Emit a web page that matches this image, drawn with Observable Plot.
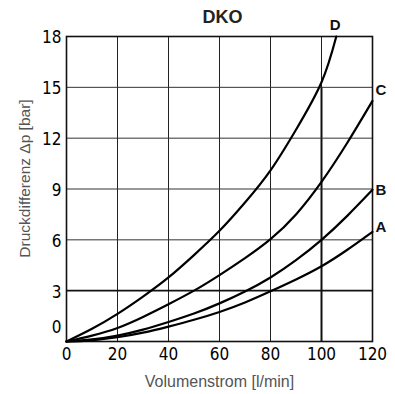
<!DOCTYPE html>
<html>
<head>
<meta charset="utf-8">
<script src="https://cdn.jsdelivr.net/npm/d3@7"></script>
<script src="https://cdn.jsdelivr.net/npm/@observablehq/plot@0.6"></script>
<style>
  html, body { margin: 0; padding: 0; background: #fff; }
</style>
</head>
<body>
<div id="chart"></div>
<script>
const title = "DKO";
const xLabel = "Volumenstrom [l/min]";
const yLabel = "Druckdifferenz Δp [bar]";
const xTicks = [0, 20, 40, 60, 80, 100, 120];
const yTicks = [0, 3, 6, 9, 12, 15, 18];

const flow  = [0, 10, 20, 30, 40, 50, 60, 70, 80, 90, 100, 110, 120];
const flowD = [0, 10, 20, 30, 40, 50, 60, 70, 80, 90, 100, 105.8];
const seriesA = [0, 0.07, 0.25, 0.52, 0.88, 1.28, 1.74, 2.3, 2.96, 3.66, 4.44, 5.4, 6.47];
const seriesB = [0, 0.12, 0.35, 0.7, 1.15, 1.65, 2.25, 2.95, 3.78, 4.8, 6.0, 7.4, 8.95];
const seriesC = [0, 0.35, 0.8, 1.45, 2.2, 3.0, 3.92, 4.92, 6.04, 7.5, 9.42, 11.7, 14.2];
const seriesD = [0, 0.75, 1.63, 2.65, 3.78, 5.1, 6.53, 8.2, 10.1, 12.5, 15.3, 18];
const curveNames = ["A", "B", "C", "D"];

const series = [
  {name: curveNames[0], x: flow, y: seriesA},
  {name: curveNames[1], x: flow, y: seriesB},
  {name: curveNames[2], x: flow, y: seriesC},
  {name: curveNames[3], x: flowD, y: seriesD}
];
const rows = series.flatMap(s => s.x.map((x, i) => ({name: s.name, x, y: s.y[i]})));
const ends = series.map(s => ({name: s.name, x: s.x[s.x.length - 1], y: s.y[s.y.length - 1]}));

const tickFont = "'Liberation Sans Narrow', 'DejaVu Sans Condensed', sans-serif";
const labelFont = "'Liberation Sans', Arial, sans-serif";
const labelStyle = {dx: 3, lineAnchor: "middle", textAnchor: "start", fontFamily: labelFont, fontWeight: "bold", fontSize: 15, fill: "#111"};

const chart = Plot.plot({
  width: 395,
  height: 394,
  marginTop: 36,
  marginBottom: 53,
  marginLeft: 66,
  marginRight: 23,
  x: {domain: [0, 120]},
  y: {domain: [0, 18]},
  style: {background: "#fff", color: "#000"},
  marks: [
    Plot.ruleX(xTicks.filter(d => d > 0 && d < 120 && d !== 100), {stroke: "#222", strokeWidth: 1}),
    Plot.ruleX([100], {stroke: "#222", strokeWidth: 1}),
    Plot.ruleX([100], {y1: 0, y2: 15, stroke: "#111", strokeWidth: 2}),
    Plot.ruleY(yTicks.filter(d => d > 3 && d < 18), {stroke: "#333", strokeWidth: 1}),
    Plot.ruleY([3], {stroke: "#111", strokeWidth: 1.8}),
    Plot.frame({stroke: "#111", strokeWidth: 1.6}),
    Plot.line(rows, {x: "x", y: "y", z: "name", curve: "natural", stroke: "#000", strokeWidth: 2.2}),
    Plot.axisX({ticks: xTicks, tickSize: 0, tickPadding: 6, label: null, fontSize: 17, fontFamily: tickFont, fill: "#000"}),
    Plot.axisY({ticks: yTicks.filter(d => d > 0), tickSize: 0, tickPadding: 5, dy: 1.5, label: null, fontSize: 17, fontFamily: tickFont, fill: "#000"}),
    Plot.axisY({ticks: [0], tickSize: 0, tickPadding: 5, dy: -14, label: null, fontSize: 17, fontFamily: tickFont, fill: "#000"}),
    Plot.text(ends.filter(d => d.name === "A"), {x: "x", y: "y", text: "name", ...labelStyle, dy: -5}),
    Plot.text(ends.filter(d => d.name === "B"), {x: "x", y: "y", text: "name", ...labelStyle, dy: 0}),
    Plot.text(ends.filter(d => d.name === "C"), {x: "x", y: "y", text: "name", ...labelStyle, dy: -11}),
    Plot.text(ends.filter(d => d.name === "D"), {x: "x", y: "y", text: "name", ...labelStyle, dx: -1, dy: -11, textAnchor: "middle"}),
    Plot.text([title], {frameAnchor: "top", text: d => d, dx: 3, dy: -19, lineAnchor: "middle", fontFamily: labelFont, fontWeight: "bold", fontSize: 18, fill: "#222"}),
    Plot.text([xLabel], {frameAnchor: "bottom", text: d => d, dy: 40, lineAnchor: "middle", fontFamily: labelFont, fontSize: 16, fill: "#555"}),
    Plot.text([yLabel], {frameAnchor: "left", text: d => d, rotate: -90, dx: -41, dy: -10.5, textAnchor: "middle", lineAnchor: "middle", fontFamily: labelFont, fontSize: 15.5, fill: "#555"})
  ]
});
document.getElementById("chart").appendChild(chart);
</script>
</body>
</html>
